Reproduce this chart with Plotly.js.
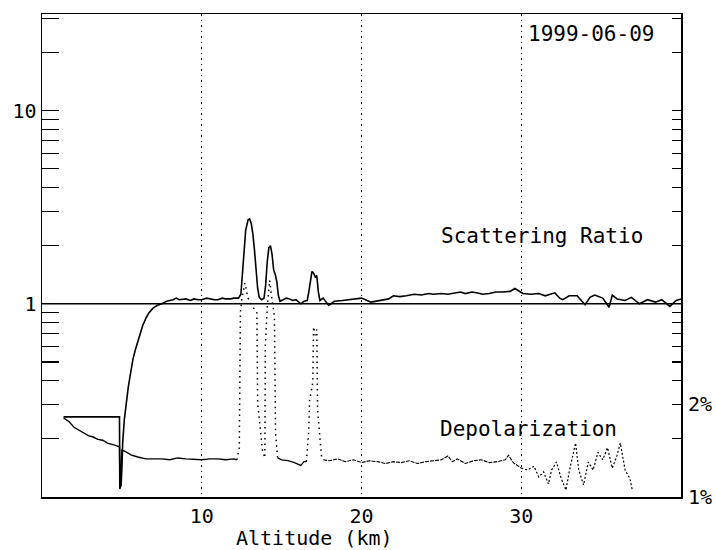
<!DOCTYPE html>
<html>
<head>
<meta charset="utf-8">
<script src="https://cdn.plot.ly/plotly-3.0.1.min.js"></script>
<style>
html,body{margin:0;padding:0;background:#fff;}
#chart{width:715px;height:550px;}
</style>
</head>
<body>
<div id="chart"></div>
<script>
// Scattering ratio profile (altitude km, ratio)
var srAlt = [1.35,4.85,4.87,4.95,5.0,5.05,5.15,5.25,5.4,5.55,5.7,5.85,6.0,6.15,6.3,6.5,6.7,6.95,7.2,7.5,7.8,8.2,8.4,8.6,9.0,9.3,9.5,9.8,10.0,10.3,10.5,10.8,11.0,11.3,11.5,11.8,12.0,12.3,
  12.45,12.55,12.65,12.75,12.9,13.0,13.1,13.2,13.3,13.4,13.5,13.6,13.75,13.9,14.0,14.1,14.2,14.3,14.4,14.5,14.6,14.7,14.8,14.9,
  15.1,15.3,15.5,15.7,15.9,16.2,16.4,16.6,16.7,16.8,16.9,17.0,17.1,17.2,17.3,17.4,17.6,17.95,18.3,18.8,19.2,19.5,20.0,20.6,21.2,21.7,22.0,22.4,22.8,23.3,23.75,
  24.2,24.5,25.0,25.4,25.8,26.2,26.5,26.9,27.2,27.6,28.0,28.4,28.8,29.3,29.6,29.9,30.1,30.6,31.1,31.5,32.1,32.4,32.6,33.0,33.5,33.8,34.0,34.3,34.6,35.1,35.5,35.7,
  36.0,36.5,36.9,37.4,37.9,38.4,38.8,39.3,39.7,40.0];
var srVal = [0.26,0.26,0.11,0.115,0.14,0.19,0.25,0.30,0.37,0.44,0.52,0.58,0.64,0.70,0.77,0.84,0.90,0.95,0.98,1.0,1.03,1.05,1.07,1.05,1.06,1.04,1.06,1.05,1.05,1.07,1.06,1.05,1.05,1.07,1.06,1.06,1.07,1.07,
  1.12,1.4,1.9,2.4,2.72,2.75,2.6,2.3,1.9,1.5,1.2,1.08,1.05,1.07,1.25,1.65,1.95,2.0,1.8,1.5,1.42,1.3,1.1,1.03,
  1.05,1.07,1.06,1.04,1.05,1.0,1.03,1.04,1.15,1.35,1.47,1.44,1.38,1.4,1.15,1.04,1.07,0.98,1.03,1.04,1.05,1.06,1.07,1.02,1.04,1.06,1.10,1.09,1.10,1.12,1.11,
  1.13,1.12,1.13,1.12,1.14,1.15,1.13,1.15,1.14,1.12,1.13,1.15,1.15,1.16,1.2,1.15,1.13,1.12,1.13,1.10,1.14,1.07,1.05,1.1,1.10,1.03,0.99,1.08,1.11,1.07,0.96,1.11,
  1.06,1.04,1.08,1.0,1.05,1.02,1.05,0.97,1.04,1.06];

// Reference line SR = 1
var refAlt = [0, 40];
var refVal = [1, 1];

// Depolarization (%), clear-air parts
var depAltA = [1.35,1.7,2.0,2.3,2.6,2.9,3.2,3.5,3.8,4.1,4.5,4.85,4.88,4.95,5.0,5.2,5.6,6.0,6.5,7.5,8.0,8.5,9.0,10.0,10.5,11.0,11.5,12.0,12.2];
var depValA = [1.85,1.81,1.75,1.72,1.69,1.66,1.645,1.62,1.61,1.58,1.56,1.54,1.11,1.29,1.505,1.49,1.45,1.43,1.41,1.41,1.40,1.42,1.41,1.40,1.41,1.41,1.40,1.41,1.40];
var depAltB = [14.75,15.0,15.4,15.8,16.2,16.4,16.55];
var depValB = [1.42,1.40,1.39,1.37,1.34,1.38,1.38];
var depAltC = [17.6,18.0,18.5,19.0,19.5,20.0,20.5,21.0,21.5,22.0,22.5,23.0,23.5,24.0,24.5,25.0,25.4,25.7,26.0,26.5,27.0,27.5,28.0,28.5,29.0,29.2,29.5,30.0];
var depValC = [1.40,1.39,1.41,1.38,1.40,1.37,1.39,1.38,1.36,1.38,1.37,1.39,1.36,1.38,1.39,1.40,1.44,1.38,1.41,1.36,1.39,1.40,1.37,1.38,1.40,1.45,1.37,1.31];
// Depolarization inside cloud layers and above 30 km (dotted)
var depAltD = [12.2,12.35,12.42,12.5,12.7,12.9,13.1,13.45,13.5,13.6,13.8,13.95,13.98,14.1,14.25,14.4,14.55,14.62,14.75];
var depValD = [1.40,1.53,2.98,3.12,3.30,3.14,3.07,2.98,2.01,1.83,1.505,1.42,2.63,3.04,3.33,3.12,2.94,1.69,1.42];
var depAltE = [16.55,16.7,16.75,16.95,17.0,17.1,17.2,17.25,17.4,17.5,17.6];
var depValE = [1.38,1.72,2.04,2.23,2.83,2.74,2.80,1.94,1.63,1.43,1.40];
var depAltF = [30.0,30.4,30.8,31.1,31.4,31.7,31.9,32.2,32.5,32.8,33.0,33.2,33.4,33.6,33.9,34.2,34.5,34.8,35.1,35.4,35.7,36.0,36.2,36.5,36.8,36.95];
var depValF = [1.31,1.29,1.33,1.215,1.27,1.14,1.29,1.376,1.20,1.075,1.27,1.43,1.58,1.29,1.13,1.376,1.29,1.48,1.40,1.53,1.31,1.45,1.58,1.29,1.20,1.075];

// Axis ticks
var xTicks = [10, 20, 30];
var yMajor = [1, 10];
var yMajorText = ['1', '10'];
var yMinor = [0.2,0.3,0.4,0.5,0.6,0.7,0.8,0.9,2,3,4,5,6,7,8,9,20,30];
var depTicks = [1, 2];
var depTickText = ['1%', '2%'];

var FONT = 'DejaVu Sans Mono, Liberation Mono, monospace';
var blk = '#000';

var traces = [
  {x: refAlt, y: refVal, yaxis: 'y3', mode: 'lines', line: {color: blk, width: 1.5}, hoverinfo: 'skip'},
  {x: srAlt, y: srVal, mode: 'lines', line: {color: blk, width: 1.6}},
  {x: depAltA, y: depValA, yaxis: 'y2', mode: 'lines', line: {color: blk, width: 1.4}},
  {x: depAltB, y: depValB, yaxis: 'y2', mode: 'lines', line: {color: blk, width: 1.3}},
  {x: depAltC, y: depValC, yaxis: 'y2', mode: 'lines', line: {color: blk, width: 1.1, dash: '4px,1px'}},
  {x: depAltD, y: depValD, yaxis: 'y2', mode: 'lines', line: {color: blk, width: 1.5, dash: '1.5px,4px'}},
  {x: depAltE, y: depValE, yaxis: 'y2', mode: 'lines', line: {color: blk, width: 1.5, dash: '1.5px,4px'}},
  {x: depAltF, y: depValF, yaxis: 'y2', mode: 'lines', line: {color: blk, width: 1.2, dash: '2px,2px'}}
];

var layout = {
  width: 715, height: 550,
  margin: {l: 42, r: 34, t: 14, b: 53, pad: 0},
  paper_bgcolor: '#fff', plot_bgcolor: '#fff',
  showlegend: false,
  font: {family: FONT, color: blk, size: 20},
  xaxis: {
    range: [0, 40], tickvals: xTicks, ticks: '', showgrid: true,
    gridcolor: blk, gridwidth: 1, griddash: '1.5px,4px',
    showline: true, mirror: true, linecolor: blk, linewidth: 1.5, zeroline: false,
    tickfont: {family: FONT, size: 20, color: blk}
  },
  yaxis: {
    type: 'log', range: [-1, 1.5], tickvals: yMajor, ticktext: yMajorText,
    ticks: 'inside', ticklen: 17, tickwidth: 1.3, tickcolor: blk,
    showgrid: false, showline: true, linecolor: blk, linewidth: 1.5, zeroline: false,
    tickfont: {family: FONT, size: 20, color: blk},
    minor: {tickvals: yMinor, ticks: 'inside', ticklen: 17, tickwidth: 1.2, tickcolor: blk, showgrid: false}
  },
  yaxis2: {
    overlaying: 'y', side: 'right', range: [1, 1 + 483/93],
    tickvals: depTicks, ticktext: depTickText, ticks: '', ticklabelstandoff: 6,
    showgrid: false, showline: false, zeroline: false,
    tickfont: {family: FONT, size: 20, color: blk}
  },
  yaxis3: {
    overlaying: 'y', side: 'right', type: 'log', range: [-1, 1.5],
    tickvals: yMajor, showticklabels: false,
    ticks: 'inside', ticklen: 9, tickwidth: 1.3, tickcolor: blk,
    showgrid: false, showline: true, linecolor: blk, linewidth: 1.5, zeroline: false,
    minor: {tickvals: yMinor, ticks: 'inside', ticklen: 9, tickwidth: 1.2, tickcolor: blk, showgrid: false}
  },
  annotations: [
    {text: '1999-06-09', xref: 'paper', yref: 'paper', x: 0.859, y: 0.9586, xanchor: 'center', yanchor: 'middle', showarrow: false, font: {family: FONT, size: 21, color: blk}},
    {text: 'Scattering Ratio', xref: 'paper', yref: 'paper', x: 0.7817, y: 0.540, xanchor: 'center', yanchor: 'middle', showarrow: false, font: {family: FONT, size: 21, color: blk}},
    {text: 'Depolarization', xref: 'paper', yref: 'paper', x: 0.762, y: 0.141, xanchor: 'center', yanchor: 'middle', showarrow: false, font: {family: FONT, size: 21, color: blk}},
    {text: 'Altitude (km)', xref: 'paper', yref: 'paper', x: 0.427, y: -0.085, xanchor: 'center', yanchor: 'middle', showarrow: false, font: {family: FONT, size: 20, color: blk}}
  ]
};

Plotly.newPlot('chart', traces, layout, {displayModeBar: false, staticPlot: true});
</script>
</body>
</html>
